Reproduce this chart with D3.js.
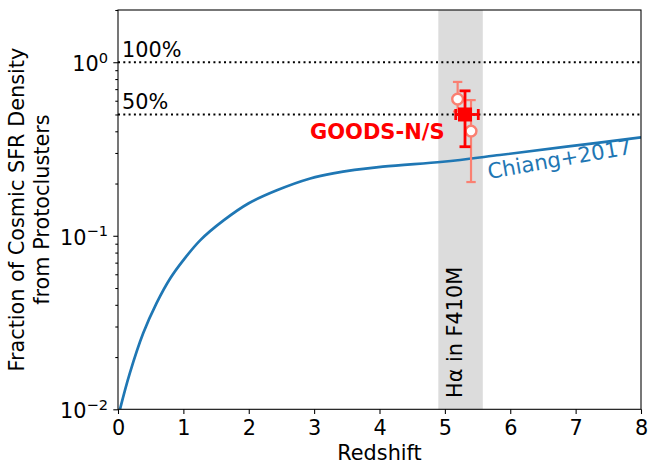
<!DOCTYPE html>
<html>
<head>
<meta charset="utf-8">
<script src="https://cdn.jsdelivr.net/npm/d3@7"></script>
<style>
  html, body { margin: 0; padding: 0; background: #fff; }
  svg { display: block; font-family: "DejaVu Sans", sans-serif; }
</style>
</head>
<body>
<svg id="chart" width="649" height="464"></svg>
<script>
// Chiang+2017 model: protocluster share of cosmic SFR density vs redshift
const modelZ    = [0.03, 0.18, 0.385, 0.59, 0.80, 1.0, 1.26, 1.62, 2.0, 2.43, 2.94, 3.29, 4.05, 4.97, 5.84, 6.86, 8.0];
const modelFrac = [0.010, 0.0161, 0.0274, 0.0409, 0.0569, 0.0724, 0.0944, 0.123, 0.154, 0.183, 0.214, 0.229, 0.250, 0.267, 0.292, 0.326, 0.369];

// GOODS-N/S combined measurement (filled square)
const goodsZ = [5.308];
const goodsFrac = [0.50];
const goodsFracLo = [0.326];
const goodsFracHi = [0.684];
const goodsZLo = [5.166];
const goodsZHi = [5.511];

// individual fields (open circles)
const fieldZ = [5.195, 5.40];
const fieldFrac = [0.613, 0.401];
const fieldFracLo = [0.52, 0.204];
const fieldFracHi = [0.77, 0.605];

// reference levels
const refLevels = [1.0, 0.5];
const refLabels = ["100%", "50%"];

// redshift window of Hα in F410M
const bandZ = [4.9, 5.58];

const xTicks = [0, 1, 2, 3, 4, 5, 6, 7, 8];
const yMajor = [0.01, 0.1, 1];
const yMajorExp = ["−2", "−1", "0"];

const FS = 20.8;
const box = { left: 118, right: 641, top: 10, bottom: 409.3 };

const svg = d3.select("#chart");
const x = d3.scaleLinear().domain([0, 8]).range([box.left, box.right]);
const y = d3.scaleLog().domain([0.01, 2]).range([box.bottom, box.top]);

const plot = svg.append("g");
plot.append("clipPath").attr("id", "clip")
  .append("rect").attr("x", box.left).attr("y", box.top)
  .attr("width", box.right - box.left).attr("height", box.bottom - box.top);

// wavelength window
plot.append("rect")
  .attr("x", x(bandZ[0])).attr("y", box.top)
  .attr("width", x(bandZ[1]) - x(bandZ[0])).attr("height", box.bottom - box.top)
  .attr("fill", "#dcdcdc");

// dotted reference lines
plot.selectAll(".ref").data(refLevels).join("line")
  .attr("x1", x(0)).attr("x2", x(8))
  .attr("y1", d => y(d)).attr("y2", d => y(d))
  .attr("stroke", "#000").attr("stroke-width", 2)
  .attr("stroke-dasharray", "2,3.3");

plot.selectAll(".reflabel").data(refLabels).join("text")
  .attr("x", 122)
  .attr("y", (d, i) => y(refLevels[i]) - 5)
  .attr("font-size", FS).attr("fill", "#000")
  .text(d => d);

// model curve
const line = d3.line()
  .x((d, i) => x(modelZ[i]))
  .y(d => y(d))
  .curve(d3.curveCatmullRom.alpha(0.5));
plot.append("path")
  .datum(modelFrac)
  .attr("clip-path", "url(#clip)")
  .attr("d", line)
  .attr("fill", "none")
  .attr("stroke", "#1f77b4").attr("stroke-width", 2.7);

// band label
plot.append("text")
  .attr("transform", `translate(${x(5.24) + 1},398) rotate(-90)`)
  .attr("font-size", FS).attr("fill", "#000")
  .text("Hα in F410M");

// model label
plot.append("text")
  .attr("transform", `translate(489,179) rotate(-10)`)
  .attr("font-size", 21.2).attr("fill", "#1f77b4")
  .text("Chiang+2017");

// open circles with error bars
const salmon = "#fa8072";
const fields = plot.append("g");
fieldZ.forEach((z, i) => {
  const cx = x(z);
  fields.append("line")
    .attr("x1", cx).attr("x2", cx)
    .attr("y1", y(fieldFracLo[i])).attr("y2", y(fieldFracHi[i]))
    .attr("stroke", salmon).attr("stroke-width", 2.2);
  [fieldFracLo[i], fieldFracHi[i]].forEach(v => {
    fields.append("line")
      .attr("x1", cx - 4.7).attr("x2", cx + 4.7)
      .attr("y1", y(v)).attr("y2", y(v))
      .attr("stroke", salmon).attr("stroke-width", 2.2);
  });
  fields.append("circle")
    .attr("cx", cx).attr("cy", y(fieldFrac[i])).attr("r", 5.4)
    .attr("fill", "#fff").attr("stroke", salmon).attr("stroke-width", 2.4);
});

// combined measurement
const goods = plot.append("g");
goodsZ.forEach((z, i) => {
  const cx = x(z), cy = y(goodsFrac[i]);
  goods.append("line")
    .attr("x1", cx).attr("x2", cx)
    .attr("y1", y(goodsFracLo[i])).attr("y2", y(goodsFracHi[i]))
    .attr("stroke", "red").attr("stroke-width", 2.8);
  goods.append("line")
    .attr("x1", x(goodsZLo[i])).attr("x2", x(goodsZHi[i]))
    .attr("y1", cy).attr("y2", cy)
    .attr("stroke", "red").attr("stroke-width", 2.8);
  [goodsFracLo[i], goodsFracHi[i]].forEach(v => {
    goods.append("line")
      .attr("x1", cx - 5.5).attr("x2", cx + 5.5)
      .attr("y1", y(v)).attr("y2", y(v))
      .attr("stroke", "red").attr("stroke-width", 2.8);
  });
  [goodsZLo[i], goodsZHi[i]].forEach(v => {
    goods.append("line")
      .attr("x1", x(v)).attr("x2", x(v))
      .attr("y1", cy - 5.5).attr("y2", cy + 5.5)
      .attr("stroke", "red").attr("stroke-width", 2.8);
  });
  goods.append("rect")
    .attr("x", cx - 7).attr("y", cy - 7)
    .attr("width", 14).attr("height", 14)
    .attr("fill", "red");
});

plot.append("text")
  .attr("x", 310).attr("y", 139)
  .attr("font-size", 21).attr("font-weight", "bold").attr("fill", "red")
  .text("GOODS-N/S");

// axes
const xAxis = svg.append("g")
  .attr("transform", `translate(0,${box.bottom})`)
  .call(d3.axisBottom(x).tickValues(xTicks).tickFormat(d3.format("d"))
    .tickSize(4.7).tickPadding(6.2));

const yAxis = svg.append("g")
  .attr("transform", `translate(${box.left},0)`)
  .call(d3.axisLeft(y).tickValues(yMajor).tickSize(4.7).tickPadding(5.3).tickFormat(""));

const yMinor = [];
[0.01, 0.1, 1].forEach(dec => {
  for (let k = 2; k <= 9; k++) {
    const v = dec * k;
    if (v <= 2.0001) yMinor.push(v);
  }
});
svg.append("g")
  .attr("transform", `translate(${box.left},0)`)
  .call(d3.axisLeft(y).tickValues(yMinor).tickSize(2.7).tickFormat(""))
  .call(g => g.select(".domain").remove());

[xAxis, yAxis].forEach(g => {
  g.select(".domain").remove();
  g.selectAll(".tick text").attr("font-size", FS).attr("fill", "#000")
    .attr("font-family", "DejaVu Sans");
});
svg.selectAll(".tick line").attr("stroke", "#000").attr("stroke-width", 1.07);

yAxis.selectAll(".tick").each(function(d, i) {
  const t = d3.select(this).select("text");
  t.attr("dy", "0.4em").text(null);
  t.append("tspan").text("10");
  t.append("tspan").attr("font-size", 14.6).attr("dy", -8.2).text(yMajorExp[i]);
});

// frame
svg.append("rect")
  .attr("x", box.left).attr("y", box.top)
  .attr("width", box.right - box.left).attr("height", box.bottom - box.top)
  .attr("fill", "none").attr("stroke", "#000").attr("stroke-width", 1.07);

// axis titles
svg.append("text")
  .attr("x", (box.left + box.right) / 2).attr("y", 460)
  .attr("text-anchor", "middle").attr("font-size", FS)
  .text("Redshift");

const yl = svg.append("text")
  .attr("transform", `translate(23.5,${(box.top + box.bottom) / 2}) rotate(-90)`)
  .attr("text-anchor", "middle").attr("font-size", FS);
yl.append("tspan").attr("x", 0).attr("dy", 0).text("Fraction of Cosmic SFR Density");
yl.append("tspan").attr("x", 0).attr("dy", 25.5).text("from Protoclusters");
</script>
</body>
</html>
